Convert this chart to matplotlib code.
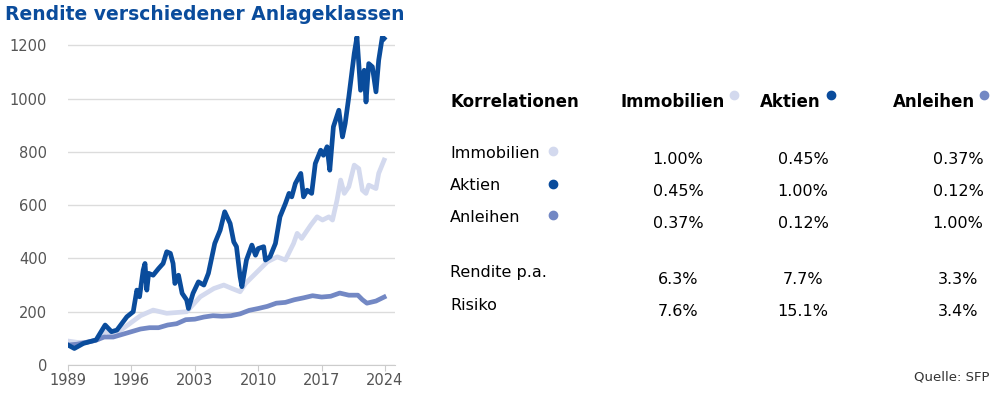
import numpy as np
import matplotlib
matplotlib.use("Agg")
import matplotlib.pyplot as plt

plt.rcParams["font.family"] = ["DejaVu Sans"]

# ---- data ----
aktien_t = [1989.0, 1989.7, 1990.7, 1992.1, 1993.1, 1993.8, 1994.4, 1995.5, 1996.2, 1996.6,
            1996.9, 1997.3, 1997.5, 1997.7, 1997.9, 1998.4, 1999.0, 1999.5, 1999.9, 2000.3,
            2000.6, 2000.8, 2001.2, 2001.6, 2002.1, 2002.3, 2002.8, 2003.4, 2004.0, 2004.5,
            2005.2, 2005.8, 2006.3, 2006.9, 2007.3, 2007.6, 2008.0, 2008.2, 2008.7, 2009.3,
            2009.7, 2010.0, 2010.6, 2010.8, 2011.3, 2011.9, 2012.4, 2013.0, 2013.4, 2013.7,
            2014.1, 2014.7, 2015.0, 2015.4, 2015.9, 2016.3, 2016.9, 2017.2, 2017.6, 2017.9,
            2018.3, 2018.9, 2019.3, 2019.6, 2020.0, 2020.6, 2020.9, 2021.3, 2021.7, 2021.9,
            2022.2, 2022.6, 2023.0, 2023.3, 2023.7, 2023.9]
aktien_v = [75, 62, 81, 94, 150, 125, 131, 181, 200, 281,
            256, 356, 381, 281, 344, 337, 362, 381, 425, 419,
            381, 306, 337, 269, 244, 212, 269, 312, 300, 344,
            456, 506, 575, 531, 462, 444, 331, 294, 394, 450,
            412, 437, 444, 394, 406, 456, 556, 606, 644, 631,
            681, 719, 631, 656, 644, 756, 806, 787, 819, 731,
            894, 956, 856, 906, 1006, 1169, 1231, 1031, 1106, 987,
            1131, 1119, 1025, 1144, 1231, 1225]

immo_t = [1989.0, 1990.0, 1991.0, 1992.3, 1993.1, 1994.0, 1995.0, 1996.0, 1997.0, 1998.4,
          1999.9, 2002.1, 2003.6, 2005.1, 2006.2, 2007.1, 2008.0, 2008.6, 2009.9, 2011.0,
          2012.1, 2013.0, 2013.9, 2014.3, 2014.8, 2015.8, 2016.5, 2017.1, 2017.8, 2018.2,
          2018.7, 2019.1, 2019.5, 2020.0, 2020.6, 2021.1, 2021.5, 2021.9, 2022.2, 2023.0,
          2023.3, 2023.9]
immo_v = [90, 85, 85, 95, 125, 115, 135, 160, 185, 206,
          194, 200, 256, 287, 300, 287, 275, 306, 350, 387,
          406, 394, 456, 494, 475, 525, 556, 544, 556, 544,
          619, 694, 644, 669, 750, 737, 656, 644, 675, 662,
          719, 769]

anl_t = [1989, 1990, 1991, 1992, 1993, 1994, 1995, 1996, 1997, 1998, 1999, 2000, 2001,
         2002, 2003, 2004, 2005, 2006, 2007, 2008, 2009, 2010, 2011, 2012, 2013, 2014,
         2015, 2016, 2017, 2018, 2019, 2020, 2021, 2021.5, 2022, 2023, 2023.9]
anl_v = [75, 78, 85, 92, 105, 105, 115, 125, 135, 140, 140, 150, 155,
         170, 172, 180, 185, 183, 185, 192, 205, 212, 220, 232, 235, 245,
         252, 260, 255, 258, 270, 262, 262, 245, 232, 240, 255]

assets = ["Immobilien", "Aktien", "Anleihen"]
colors = ["#d3d9ee", "#0a4c9c", "#7388c4"]
corr = [["1.00%", "0.45%", "0.37%"],
        ["0.45%", "1.00%", "0.12%"],
        ["0.37%", "0.12%", "1.00%"]]
rendite = ["6.3%", "7.7%", "3.3%"]
risiko = ["7.6%", "15.1%", "3.4%"]
xticks = [1989, 1996, 2003, 2010, 2017, 2024]
yticks = [0, 200, 400, 600, 800, 1000, 1200]

fig = plt.figure(figsize=(10, 3.97), dpi=100)
ax = fig.add_axes([0.068, 0.0806, 0.327, 0.829])

ax.plot(immo_t, immo_v, color=colors[0], lw=3.4, solid_joinstyle="round", zorder=2)
ax.plot(anl_t, anl_v, color=colors[2], lw=3.4, solid_joinstyle="round", zorder=3)
ax.plot(aktien_t, aktien_v, color=colors[1], lw=3.4, solid_joinstyle="round", zorder=4)

ax.set_xlim(1989, 2025.1)
ax.set_ylim(0, 1235)
ax.set_xticks(xticks)
ax.set_yticks(yticks)
ax.grid(axis="y", color="#dcdcdc", lw=1)
ax.set_axisbelow(True)
for s in ["top", "right", "left"]:
    ax.spines[s].set_visible(False)
ax.spines["bottom"].set_color("#cccccc")
ax.tick_params(axis="y", length=0, pad=15, labelsize=10.5, labelcolor="#555555")
ax.tick_params(axis="x", length=4, color="#cccccc", pad=2, labelsize=10.5, labelcolor="#555555")

fig.text(0.005, 0.963, "Rendite verschiedener Anlageklassen", fontsize=13.5, fontweight="bold",
         color="#0a4c9c", va="center", ha="left")

# overlay in pixel coordinates for the table
ov = fig.add_axes([0, 0, 1, 1])
ov.set_xlim(0, 1000)
ov.set_ylim(397, 0)
ov.axis("off")

head_x = [620, 760, 893]
head_w = [105, 62, 82]
ov.text(450, 102, "Korrelationen", fontsize=12, fontweight="bold", va="center", ha="left")
for i, a in enumerate(assets):
    ov.text(head_x[i], 102, a, fontsize=12, fontweight="bold", va="center", ha="left")
    ov.plot(head_x[i] + head_w[i] + 9, 95, "o", ms=6, color=colors[i])

col_x = [678, 803, 958]
row_y = [153, 186, 217]
for i, a in enumerate(assets):
    ov.text(450, row_y[i], a, fontsize=11.5, va="center", ha="left")
    ov.plot(553, row_y[i] - 2, "o", ms=6, color=colors[i])
    for j in range(3):
        ov.text(col_x[j], row_y[i] + 6, corr[i][j], fontsize=11.5, va="center", ha="center")

ov.text(450, 272, "Rendite p.a.", fontsize=11.5, va="center", ha="left")
ov.text(450, 305, "Risiko", fontsize=11.5, va="center", ha="left")
for j in range(3):
    ov.text(col_x[j], 279, rendite[j], fontsize=11.5, va="center", ha="center")
    ov.text(col_x[j], 311, risiko[j], fontsize=11.5, va="center", ha="center")

ov.text(990, 377, "Quelle: SFP", fontsize=9.5, color="#333333", va="center", ha="right")

fig.savefig("out.png", dpi=100)
